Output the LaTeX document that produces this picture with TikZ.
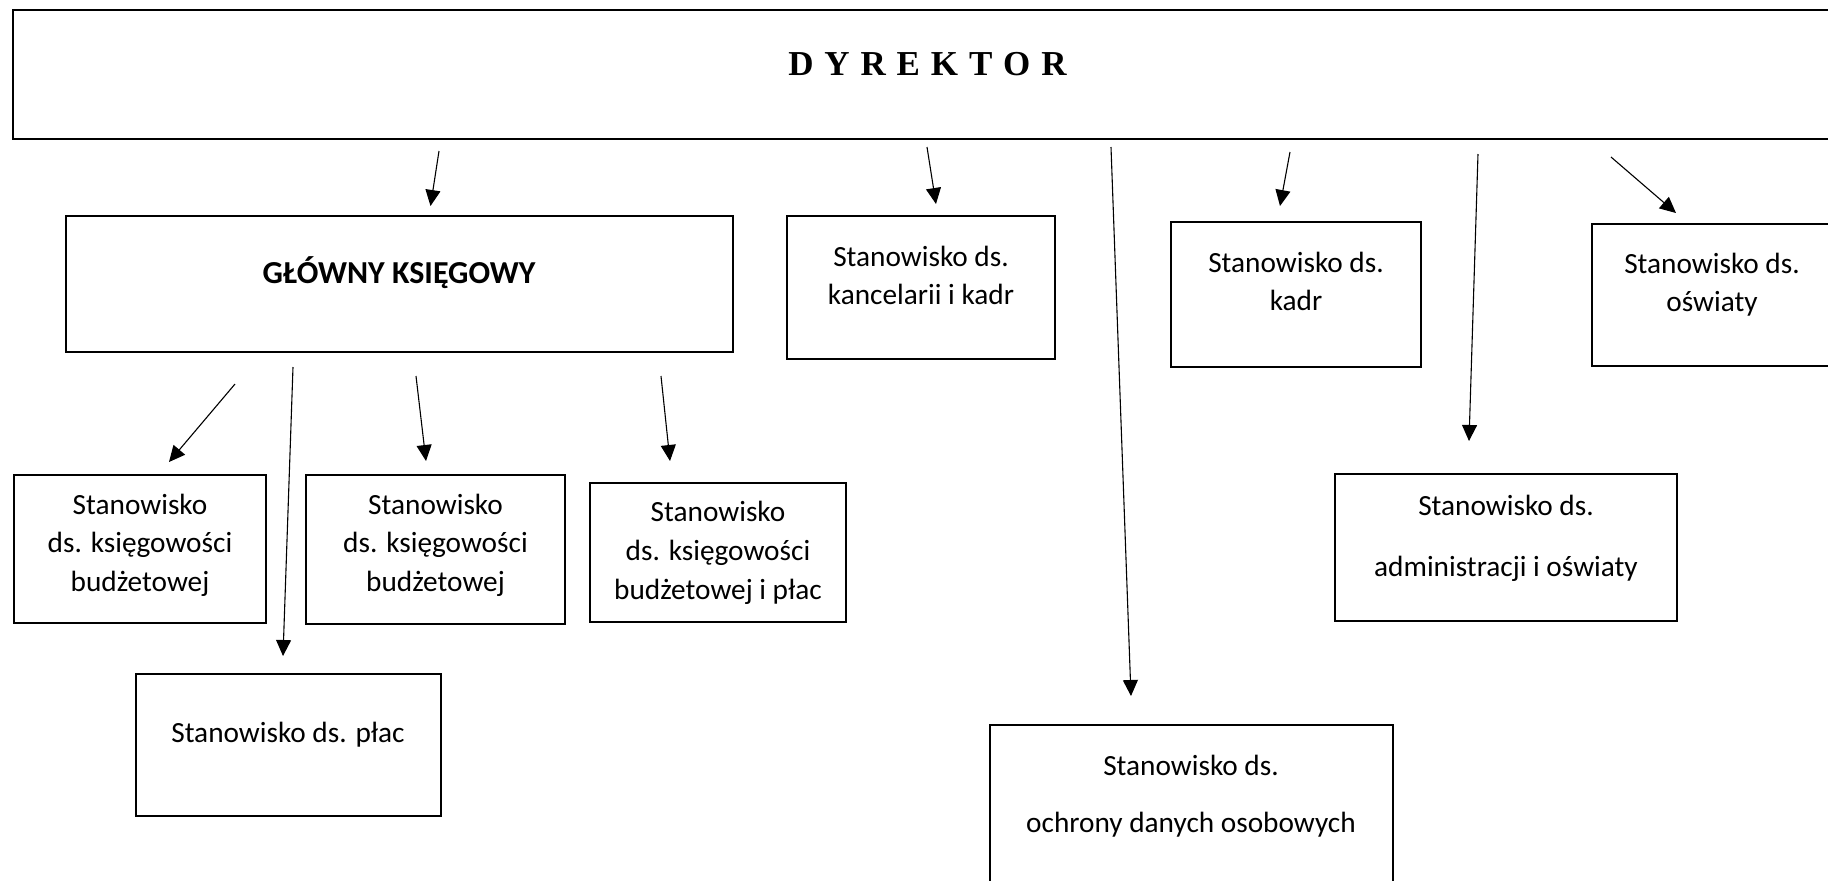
\documentclass[tikz,border=0pt]{standalone}
\usepackage{fontspec}
\setmainfont{Carlito}
\newfontfamily\dyrfont{Liberation Serif}
\usetikzlibrary{arrows.meta}
\tikzset{
  box/.style={draw=black, line width=1.35pt, rectangle, inner sep=0pt, fill=none},
  lbl/.style={anchor=base, inner sep=0pt, font=\fontsize{14.65pt}{17pt}\selectfont},
  lblb/.style={anchor=base, inner sep=0pt, font=\fontsize{16pt}{19pt}\selectfont\bfseries},
  dyr/.style={anchor=base, inner sep=0pt, font=\fontsize{17.5pt}{20pt}\selectfont\dyrfont\bfseries},
  conn/.style={draw=black, line width=0.55pt, -{Triangle[length=8pt,width=7.5pt]}}
}
\begin{document}
\begin{tikzpicture}[x=0.5pt,y=-0.5pt]
\useasboundingbox (0,0) rectangle (1828,880);
% boxes
\node[box, minimum width=916pt, minimum height=64.5pt] (dyrb) at (929,74.5) {};
\node[box, minimum width=333.5pt, minimum height=68pt] (gk) at (399.5,284) {};
\node[box, minimum width=134pt, minimum height=71.5pt] (kan) at (921,287.5) {};
\node[box, minimum width=125pt, minimum height=72.5pt] (kadr) at (1296,294.5) {};
\node[box, minimum width=121.5pt, minimum height=71pt] (osw) at (1713.5,295) {};
\node[box, minimum width=126pt, minimum height=74pt] (skb1) at (140,549) {};
\node[box, minimum width=129.5pt, minimum height=74.5pt] (skb2) at (435.5,549.5) {};
\node[box, minimum width=128pt, minimum height=69.5pt] (skbp) at (718,552.5) {};
\node[box, minimum width=152.5pt, minimum height=71pt] (plac) at (288.5,745) {};
\node[box, minimum width=201.5pt, minimum height=82.5pt] (ochr) at (1191.5,807.5) {};
\node[box, minimum width=171pt, minimum height=73.5pt] (adm) at (1506,547.5) {};
% texts
\node[dyr] (tdyr) at (927.5,75.7) {D\hspace{0.31em}Y\hspace{0.31em}R\hspace{0.31em}E\hspace{0.31em}K\hspace{0.31em}T\hspace{0.31em}O\hspace{0.31em}R};
\node[lblb] (tgk) at (399,283) {GŁÓWNY KSIĘGOWY};
\node[lbl] (tkan1) at (921,266) {Stanowisko ds.};
\node[lbl] (tkan2) at (921,304) {kancelarii i kadr};
\node[lbl] (tkadr1) at (1296,272.7) {Stanowisko ds.};
\node[lbl] (tkadr2) at (1296,310.7) {kadr};
\node[lbl] (tosw1) at (1712,273.3) {Stanowisko ds.};
\node[lbl] (tosw2) at (1712,311.5) {oświaty};
\node[lbl] (ts1a) at (140,514.3) {Stanowisko};
\node[lbl] (ts1b) at (140,552.7) {ds. księgowości};
\node[lbl] (ts1c) at (140,591.7) {budżetowej};
\node[lbl] (ts2a) at (435.5,514.3) {Stanowisko};
\node[lbl] (ts2b) at (435.5,552.7) {ds. księgowości};
\node[lbl] (ts2c) at (435.5,591.7) {budżetowej};
\node[lbl] (tspa) at (718,521.7) {Stanowisko};
\node[lbl] (tspb) at (718,560) {ds. księgowości};
\node[lbl] (tspc) at (718,599) {budżetowej i płac};
\node[lbl] (tplac) at (288,742.7) {Stanowisko ds. płac};
\node[lbl] (tochr1) at (1191,775.7) {Stanowisko ds.};
\node[lbl] (tochr2) at (1191,832.7) {ochrony danych osobowych};
\node[lbl] (tadm1) at (1506,515) {Stanowisko ds.};
\node[lbl] (tadm2) at (1506,576) {administracji i oświaty};
% connector ends
\coordinate (a1s) at (439,151);  \coordinate (a1e) at (430.5,206);
\coordinate (a2s) at (927,147);  \coordinate (a2e) at (936,204);
\coordinate (a3s) at (1111,147); \coordinate (a3e) at (1131,696);
\coordinate (a4s) at (1290,152); \coordinate (a4e) at (1280,206);
\coordinate (a5s) at (1478,154); \coordinate (a5e) at (1469,441);
\coordinate (a6s) at (1611,157); \coordinate (a6e) at (1676,213);
\coordinate (b1s) at (235,384);  \coordinate (b1e) at (169,462);
\coordinate (b2s) at (293,367);  \coordinate (b2e) at (283,656);
\coordinate (b3s) at (416,376);  \coordinate (b3e) at (426,461);
\coordinate (b4s) at (661,376);  \coordinate (b4e) at (670,461);
% connectors
\draw[conn] (a1s) -- (a1e);
\draw[conn] (a2s) -- (a2e);
\draw[conn] (a3s) -- (a3e);
\draw[conn] (a4s) -- (a4e);
\draw[conn] (a5s) -- (a5e);
\draw[conn] (a6s) -- (a6e);
\draw[conn] (b1s) -- (b1e);
\draw[conn] (b2s) -- (b2e);
\draw[conn] (b3s) -- (b3e);
\draw[conn] (b4s) -- (b4e);
\end{tikzpicture}
\end{document}
